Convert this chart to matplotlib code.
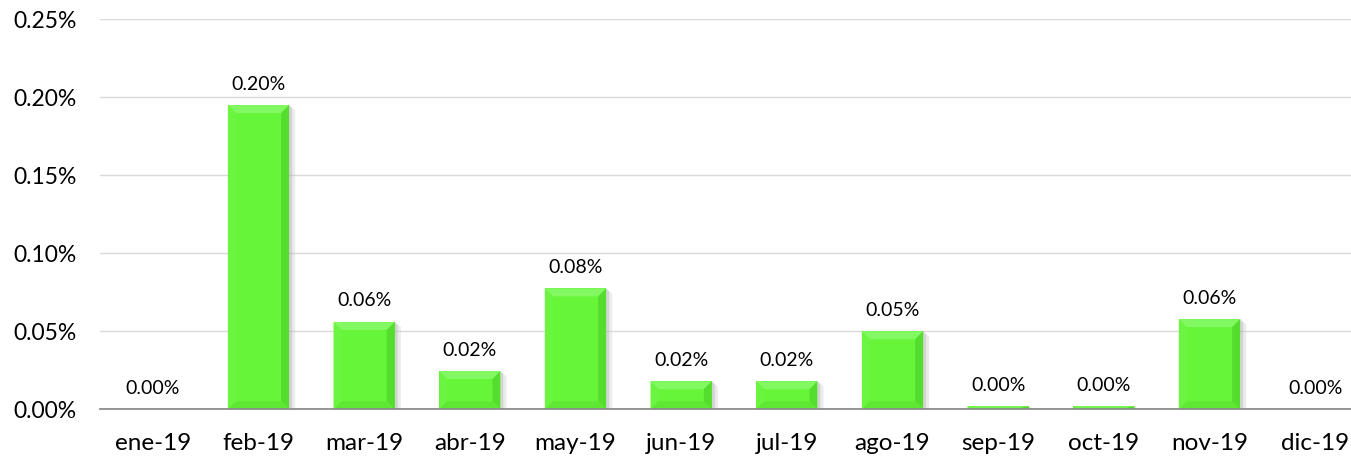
import matplotlib
matplotlib.use("Agg")
import matplotlib.pyplot as plt
from matplotlib.patches import Polygon
from matplotlib.ticker import FuncFormatter

months = ["ene-19", "feb-19", "mar-19", "abr-19", "may-19", "jun-19",
          "jul-19", "ago-19", "sep-19", "oct-19", "nov-19", "dic-19"]
values = [0.0, 0.195, 0.056, 0.0245, 0.0775, 0.018,
          0.018, 0.050, 0.002, 0.002, 0.0578, 0.0]   # percent
labels = ["0.00%", "0.20%", "0.06%", "0.02%", "0.08%", "0.02%",
          "0.02%", "0.05%", "0.00%", "0.00%", "0.06%", "0.00%"]

plt.rcParams['font.family'] = ['Lato', 'DejaVu Sans']

W, H = 1351, 458
fig = plt.figure(figsize=(W / 100, H / 100), dpi=100)
ax = fig.add_axes([100 / W, 48.7 / H, 1268 / W, 390 / H])

x = list(range(len(months)))
bw = 0.58
face = "#66F538"
bars = ax.bar(x, values, width=bw, color=face, edgecolor="none", zorder=3)

ax.set_xlim(-0.5, len(months) - 0.5)
ax.set_ylim(0, 0.25)
ax.set_yticks([0, 0.05, 0.10, 0.15, 0.20, 0.25])
ax.yaxis.set_major_formatter(FuncFormatter(lambda v, p: f"{v:.2f}%"))
ax.set_xticks(x)
ax.set_xticklabels(months)
ax.grid(axis="y", color="#D9D9D9", linewidth=1.0, zorder=0)
for s in ["top", "right", "left"]:
    ax.spines[s].set_visible(False)
ax.spines["bottom"].set_color("#8C8C8C")
ax.spines["bottom"].set_linewidth(1.3)
ax.spines["bottom"].set_zorder(5)
ax.tick_params(axis="both", length=0, colors="#000000")
ax.tick_params(axis="y", pad=17, labelsize=16.5)
ax.tick_params(axis="x", pad=17, labelsize=17.5)

# bevel decoration derived from each bar's geometry
bx_px = 8.0
xpp = 1.0 / 105.6          # data units per pixel in x
ypp = 0.25 / 390           # data units per pixel in y
for b in bars:
    x0, w, h = b.get_x(), b.get_width(), b.get_height()
    if h <= 0:
        continue
    x1 = x0 + w
    dx = bx_px * xpp
    dy = min(bx_px * ypp, h / 2)
    # shadow
    ax.add_patch(Polygon([(x1, 0), (x1 + 3 * xpp, 0), (x1 + 3 * xpp, h - 3 * ypp), (x1, h)],
                         closed=True, facecolor="#A8A8A8", alpha=0.5, edgecolor="none", zorder=2))
    ax.add_patch(Polygon([(x1 + 3 * xpp, 0), (x1 + 6 * xpp, 0), (x1 + 6 * xpp, h - 5 * ypp), (x1 + 3 * xpp, h - 3 * ypp)],
                         closed=True, facecolor="#C8C8C8", alpha=0.35, edgecolor="none", zorder=2))
    # top bevel (light)
    ax.add_patch(Polygon([(x0, h), (x1, h), (x1 - dx, h - dy), (x0 + dx, h - dy)],
                         closed=True, facecolor="#82F862", edgecolor="none", zorder=4))
    # left bevel
    ax.add_patch(Polygon([(x0, 0), (x0, h), (x0 + dx, h - dy), (x0 + dx, dy)],
                         closed=True, facecolor="#6CF540", edgecolor="none", zorder=4))
    # right bevel (darker)
    ax.add_patch(Polygon([(x1, 0), (x1, h), (x1 - dx, h - dy), (x1 - dx, dy)],
                         closed=True, facecolor="#55DD2E", edgecolor="none", zorder=4))
    # bottom bevel
    ax.add_patch(Polygon([(x0, 0), (x1, 0), (x1 - dx, dy), (x0 + dx, dy)],
                         closed=True, facecolor="#5EE834", edgecolor="none", zorder=4))

for xi, v, lab in zip(x, values, labels):
    ax.annotate(lab, (xi, v), xytext=(0, 9), textcoords="offset points",
                ha="center", va="bottom", fontsize=14, color="#000000", zorder=6)

fig.savefig("out.png", dpi=100, facecolor="white")
